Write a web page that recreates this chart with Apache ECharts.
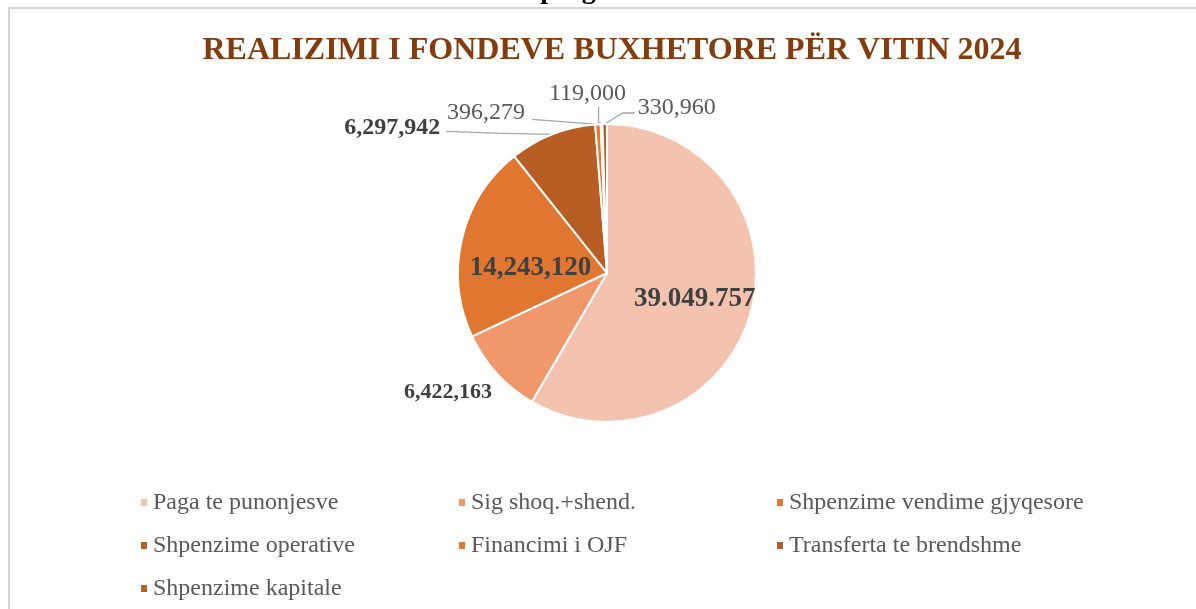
<!DOCTYPE html>
<html>
<head>
<meta charset="utf-8">
<script src="https://cdn.jsdelivr.net/npm/echarts@6/dist/echarts.min.js"></script>
<style>
  html, body { margin: 0; padding: 0; background: #fff; }
  #chart { width: 1196px; height: 609px; }
</style>
</head>
<body>
<div id="chart"></div>
<script>
const categories = [
  'Paga te punonjesve',
  'Sig shoq.+shend.',
  'Shpenzime vendime gjyqesore',
  'Shpenzime operative',
  'Financimi i OJF',
  'Transferta te brendshme',
  'Shpenzime kapitale'
];
const values = [39049757, 6422163, 14243120, 6297942, 396279, 119000, 330960];
const thousandsSep = ['.', ',', ',', ',', ',', ',', ','];
const boldLabel = [true, true, true, true, false, false, false];
const labelSize = [27, 22, 27, 24, 24, 24, 24];

const colors = ['#F4C3B0', '#F0986C', '#E07630', '#B85E24', '#E3782F', '#B25C22', '#BC6126'];

// label placement, relative to the edge point of the slice (outside labels)
// line: extra points of the leader line, text: [dx, dy, align]
const outsideLabel = {
  1: { line: [], text: [-5, 19, 'right'] },
  3: { line: [[-50, -1], [-106, -3]], text: [-112, -7, 'right'] },
  4: { line: [[-66, -5]], text: [-73, -12, 'right'] },
  5: { line: [[-3, -2], [-3, -17]], text: [-14, -30, 'center'] },
  6: { line: [[18, -11], [30, -11]], text: [33, -16, 'left'] }
};
// shift of the inside labels from their default place
const insideShift = { 0: [13, 6], 2: [-1, 13] };

function fmt(v, sep) {
  return String(v).replace(/\B(?=(\d{3})+(?!\d))/g, sep);
}

let myChart = echarts.init(document.getElementById('chart'));

let pieData = categories.map(function (name, i) {
  return {
    name: name,
    value: values[i],
    itemStyle: { color: colors[i] },
    label: {
      position: insideShift[i] ? 'inside' : 'outside',
      fontWeight: boldLabel[i] ? 'bold' : 'normal',
      fontSize: labelSize[i],
      color: boldLabel[i] ? '#404040' : '#595959'
    }
  };
});

let option = {
  backgroundColor: '#fff',
  title: {
    text: 'REALIZIMI I FONDEVE BUXHETORE PËR VITIN 2024',
    left: 607,
    textAlign: 'center',
    top: 30,
    textStyle: {
      fontFamily: 'Liberation Serif',
      fontWeight: 'bold',
      fontSize: 32,
      color: '#843C0C'
    }
  },
  graphic: [
    {
      type: 'rect',
      shape: { x: 9, y: 8, width: 1200, height: 620 },
      style: { fill: 'none', stroke: '#D6D6D6', lineWidth: 2 },
      silent: true
    },
    {
      type: 'text',
      left: 405,
      top: -23,
      style: {
        text: 'Realizimi i programit',
        font: 'bold 28px "Liberation Serif"',
        fill: '#000'
      },
      silent: true
    }
  ],
  legend: {
    left: 134,
    top: 476,
    width: 980,
    itemGap: 0,
    itemWidth: 8,
    itemHeight: 9,
    icon: 'rect',
    textStyle: {
      fontFamily: 'Liberation Serif',
      fontSize: 24,
      color: '#595959',
      width: 304,
      lineHeight: 43
    },
    data: categories
  },
  series: [
    {
      type: 'pie',
      center: [607, 273],
      radius: 149,
      startAngle: 90,
      clockwise: true,
      avoidLabelOverlap: false,
      itemStyle: { borderColor: '#fff', borderWidth: 2 },
      label: {
        fontFamily: 'Liberation Serif',
        formatter: function (p) {
          return fmt(p.value, thousandsSep[p.dataIndex]);
        }
      },
      labelLine: {
        show: true,
        length: 10,
        length2: 10,
        lineStyle: { color: '#A6A6A6', width: 1.3 }
      },
      labelLayout: function (p) {
        const i = p.dataIndex;
        const r = p.labelRect;
        if (insideShift[i]) {
          return {
            x: r.x + r.width / 2 + insideShift[i][0],
            y: r.y + r.height / 2 + insideShift[i][1],
            align: 'center',
            verticalAlign: 'middle'
          };
        }
        const cfg = outsideLabel[i];
        const p0 = p.labelLinePoints[0];
        let pts = [[p0[0], p0[1]]];
        cfg.line.forEach(function (d) { pts.push([p0[0] + d[0], p0[1] + d[1]]); });
        while (pts.length < 3) pts.push(pts[pts.length - 1].slice());
        return {
          x: p0[0] + cfg.text[0],
          y: p0[1] + cfg.text[1],
          align: cfg.text[2],
          verticalAlign: 'middle',
          labelLinePoints: pts
        };
      },
      data: pieData
    }
  ]
};

myChart.setOption(option);
window.addEventListener('resize', function () {
  myChart.resize();
});
</script>
</body>
</html>
